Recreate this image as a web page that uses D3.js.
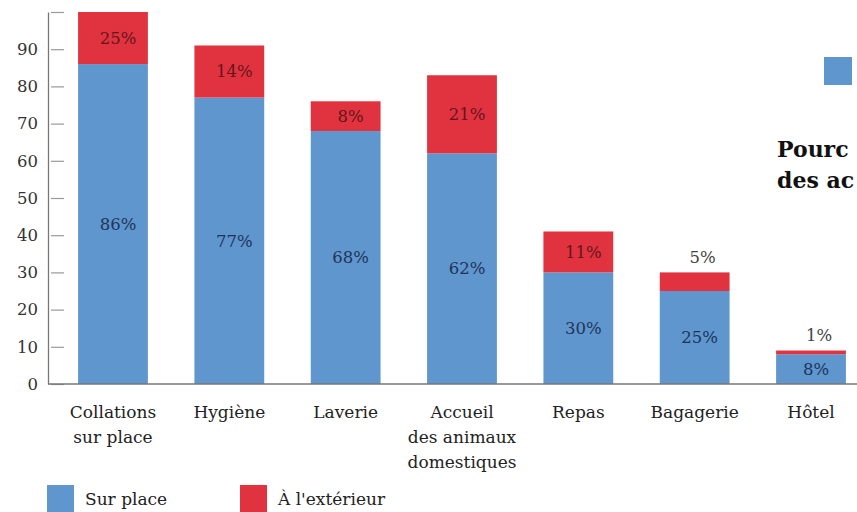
<!DOCTYPE html>
<html><head><meta charset="utf-8">
<script src="https://cdn.jsdelivr.net/npm/d3@7"></script>
<style>body{margin:0;background:#fff}svg{display:block}</style>
</head><body>
<svg id="chart" width="857" height="512"></svg>
<script>
const categories = [["Collations","sur place"],["Hygiène"],["Laverie"],["Accueil","des animaux","domestiques"],["Repas"],["Bagagerie"],["Hôtel"]];
const surPlace = [86,77,68,62,30,25,8];
const exterieur = [25,14,8,21,11,5,1];
const yTicks = [0,10,20,30,40,50,60,70,80,90,100];
const yTickLabels = ["0","10","20","30","40","50","60","70","80","90",""];
const seriesNames = ["Sur place","À l'extérieur"];
const sideTitle = ["Pourc","des ac"];

const W=857,H=512;
const blue="#6096ce", red="#e1333f";
const font="DejaVu Serif, Liberation Serif, serif";
const svg=d3.select("#chart");
const x=d3.scaleBand().domain(d3.range(categories.length)).range([49,875]).paddingInner(0.4).paddingOuter(0.25);
const y=d3.scaleLinear().domain([0,100]).range([384,12]);

svg.append("clipPath").attr("id","clip").append("rect")
  .attr("x",0).attr("y",y(100)).attr("width",W).attr("height",y(0)-y(100));

const g=svg.append("g").attr("clip-path","url(#clip)");
g.selectAll("rect.b").data(surPlace).join("rect").attr("class","b")
  .attr("x",(d,i)=>x(i)).attr("width",x.bandwidth())
  .attr("y",d=>y(d)).attr("height",d=>y(0)-y(d)).attr("fill",blue);
g.selectAll("rect.r").data(exterieur).join("rect").attr("class","r")
  .attr("x",(d,i)=>x(i)).attr("width",x.bandwidth())
  .attr("y",(d,i)=>y(surPlace[i]+d)).attr("height",(d,i)=>y(surPlace[i])-y(surPlace[i]+d)).attr("fill",red);

// axes
const yAxis=d3.axisLeft(y).tickValues(yTicks).tickFormat((d,i)=>yTickLabels[i]).tickSize(0).tickPadding(10);
const ya=svg.append("g").attr("transform","translate(48,0)").call(yAxis);
ya.select(".domain").attr("stroke","#777").attr("stroke-width",1.3);
ya.selectAll("text").attr("font-family",font).attr("font-size",16.5).attr("fill","#333");
ya.selectAll(".tick").append("line").attr("x1",3).attr("x2",16).attr("stroke","#999").attr("stroke-width",1.2);

svg.append("line").attr("x1",48).attr("x2",W).attr("y1",y(0)).attr("y2",y(0)).attr("stroke","#777").attr("stroke-width",1.3);

// value labels
const cx=i=>x(i)+x.bandwidth()/2+5;
svg.selectAll("text.bl").data(surPlace).join("text").attr("class","bl")
  .attr("x",(d,i)=>cx(i)).attr("y",d=>(y(d)+y(0))/2).attr("dy","0.35em")
  .attr("text-anchor","middle").attr("font-family",font).attr("font-size",16.5)
  .attr("fill","#1d355a").text(d=>d+"%");
svg.selectAll("text.rl").data(exterieur).join("text").attr("class","rl")
  .attr("x",(d,i)=>cx(i)+(d<6?3:0))
  .attr("y",(d,i)=>{const top=Math.min(surPlace[i]+d,100);return d<6? y(top)-15 : (y(top)+y(surPlace[i]))/2;})
  .attr("dy","0.35em")
  .attr("text-anchor","middle").attr("font-family",font).attr("font-size",16.5)
  .attr("fill",d=>d<6?"#444":"#65161b").text(d=>d+"%");

// category labels
categories.forEach((lines,i)=>{
  const t=svg.append("text").attr("text-anchor","middle").attr("font-family",font).attr("font-size",17).attr("fill","#222");
  lines.forEach((l,j)=>t.append("tspan").attr("x",x(i)+x.bandwidth()/2).attr("y",418+j*25).text(l));
});

// legend
const lg=[{n:seriesNames[0],c:blue,x:47},{n:seriesNames[1],c:red,x:240}];
lg.forEach(l=>{
  svg.append("rect").attr("x",l.x).attr("y",485).attr("width",27).attr("height",27).attr("fill",l.c);
  svg.append("text").attr("x",l.x+38).attr("y",505).attr("font-family",font).attr("font-size",17).attr("fill","#222").text(l.n);
});

// side legend fragment
svg.append("rect").attr("x",824).attr("y",57).attr("width",28).attr("height",28).attr("fill",blue);
const st=svg.append("text").attr("font-family",font).attr("font-size",22).attr("font-weight","bold").attr("fill","#111");
sideTitle.forEach((s,j)=>st.append("tspan").attr("x",777).attr("y",157+j*31).text(s));
</script>
</body></html>
